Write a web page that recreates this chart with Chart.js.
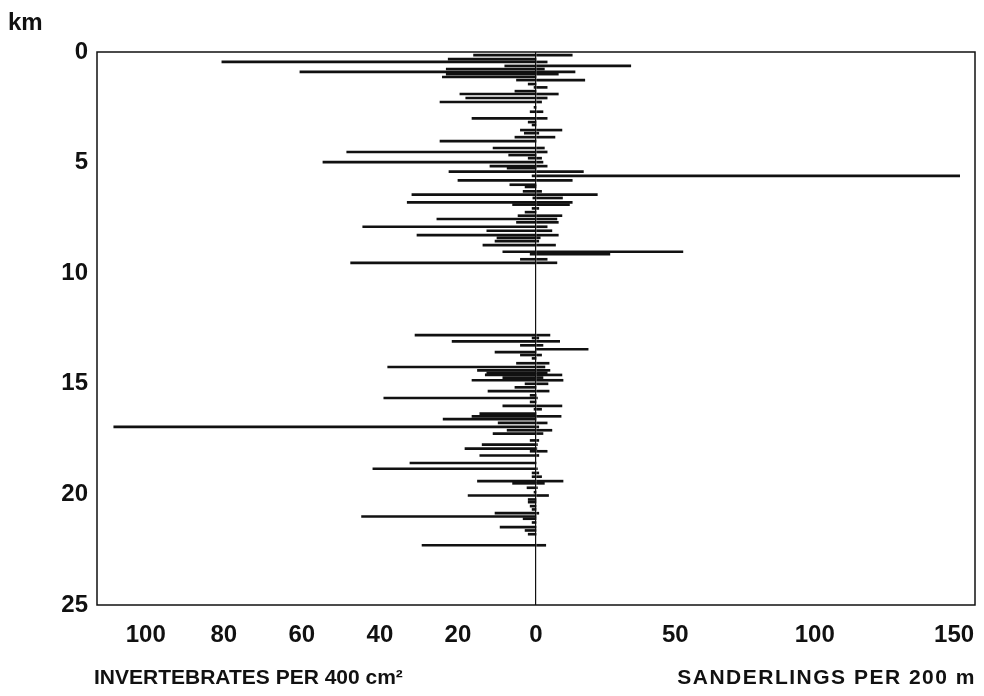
<!DOCTYPE html>
<html>
<head>
<meta charset="utf-8">
<script src="https://cdn.jsdelivr.net/npm/chart.js@4/dist/chart.umd.min.js"></script>
<style>
  body { margin: 0; background: #fff; }
  #wrap { position: relative; width: 984px; height: 696px; }
  .lbl { position: absolute; font-family: "Liberation Sans", Arial, sans-serif; font-weight: bold; color: #111; white-space: nowrap; }
</style>
</head>
<body>
<div id="wrap">
  <canvas id="chart" width="984" height="696"></canvas>
  <div class="lbl" style="left:8px; top:8px; font-size:24px;">km</div>
  <div class="lbl" style="left:94px; top:665px; font-size:21px;">INVERTEBRATES PER 400 cm²</div>
  <div class="lbl" style="right:8px; top:665px; font-size:21px; letter-spacing:1.5px;">SANDERLINGS PER 200 m</div>
</div>
<script>
// distance along the beach (km), one row per sample
const km = [
  0.14, 0.32, 0.45, 0.63, 0.77, 0.9, 1.0, 1.13, 1.27, 1.45, 1.6, 1.77, 1.9, 2.08, 2.26,
  2.5, 2.7, 3.0, 3.17, 3.3, 3.53, 3.67, 3.85, 4.03, 4.34, 4.52, 4.66, 4.8, 4.98, 5.16,
  5.25, 5.41, 5.6, 5.8, 6.0, 6.1, 6.3, 6.45, 6.6, 6.8, 6.9, 7.07, 7.24, 7.4, 7.55,
  7.7, 7.9, 8.08, 8.28, 8.4, 8.55, 8.73, 9.03, 9.14, 9.37, 9.53,
  12.8, 12.93, 13.08, 13.26, 13.44, 13.57, 13.7, 13.85, 14.07, 14.24, 14.39, 14.5, 14.6, 14.72, 14.84,
  15.0, 15.16, 15.33, 15.52, 15.64, 15.82, 16.0, 16.15, 16.35, 16.47, 16.6, 16.77, 16.95, 17.1, 17.25,
  17.56, 17.75, 17.93, 18.05, 18.24, 18.58, 18.84, 19.03, 19.2, 19.4, 19.5, 19.7, 19.9, 20.05, 20.23,
  20.35, 20.53, 20.68, 20.85, 21.0, 21.1, 21.27, 21.48, 21.63, 21.8, 22.3
];

// invertebrates per 400 cm2 (drawn to the left)
const invertebrates = [
  16, 22.5, 80.5, 8, 23, 60.5, 23, 24, 5, 2, 0.5, 5.4, 19.5, 18, 24.6,
  0.5, 1.5, 16.4, 2, 1, 4, 3, 5.4, 24.6, 11, 48.5, 7, 2, 54.6, 11.8,
  7.4, 22.3, 1, 20, 6.7, 2.8, 3.3, 31.8, 0.8, 33, 6, 1, 2.8, 4.6, 25.4,
  5, 44.4, 12.6, 30.5, 10, 10.5, 13.6, 8.5, 1.5, 4, 47.5,
  31, 1, 21.5, 4, 0, 10.5, 4, 1, 5, 38, 15, 12.6, 13, 8.5, 16.4,
  2.8, 5.4, 12.3, 1.5, 39, 1.5, 8.5, 0.5, 14.4, 16.4, 23.8, 9.7, 108.2, 7.4, 11,
  1.5, 13.8, 18.2, 1.5, 14.4, 32.3, 41.8, 1, 1, 15, 6, 2.3, 0.5, 17.4, 2,
  2, 1.5, 1, 10.5, 44.7, 3.3, 1, 9.2, 2.8, 2, 29.2
];

// sanderlings per 200 m (drawn to the right)
const sanderlings = [
  13, 0, 4, 34, 3, 14, 8, 0, 17.5, 0, 4, 0, 8, 4, 2,
  0, 2.5, 4, 0, 0, 9.3, 1, 6.8, 0, 3, 4, 0, 2, 2.5, 4,
  0, 17, 152, 13, 0, 0, 2, 22, 9.5, 13, 12, 1, 0, 9.3, 7.5,
  8, 4, 5.7, 8, 1.5, 1, 7, 52.7, 26.5, 4, 7.5,
  5, 1, 8.5, 2.5, 18.7, 0, 2, 0, 4.7, 3.2, 5, 4, 9.3, 2.5, 9.7,
  4.3, 0, 4.7, 0, 0.5, 0, 9.3, 2, 0, 9, 0, 4, 1, 5.7, 2.5,
  1, 0.5, 0.3, 4, 1, 0, 0.5, 1, 2, 9.7, 3, 0.5, 0, 4.5, 0,
  0, 0, 0, 1, 0, 0, 0, 0, 0, 0, 3.5
];

// tick labels on the two half-scales
const invTicks = [100, 80, 60, 40, 20, 0];
const sandTicks = [50, 100, 150];
const kmTicks = [0, 5, 10, 15, 20, 25];

// one invertebrate unit is 1.4 times as wide as one sanderling unit
const INV_SCALE = 1.4;

const tickFont = { family: '"Liberation Sans", Arial, sans-serif', size: 24, weight: 'bold' };

const frame = {
  id: 'frame',
  afterDraw(chart) {
    const a = chart.chartArea;
    const ctx = chart.ctx;
    ctx.save();
    ctx.strokeStyle = '#111';
    ctx.lineWidth = 1.5;
    ctx.strokeRect(a.left, a.top, a.right - a.left, a.bottom - a.top);
    ctx.restore();
  }
};

new Chart(document.getElementById('chart'), {
  type: 'bar',
  data: {
    datasets: [
      {
        label: 'Invertebrates',
        data: km.map((k, i) => ({ y: k, x: -invertebrates[i] * INV_SCALE })),
        backgroundColor: '#111',
      },
      {
        label: 'Sanderlings',
        data: km.map((k, i) => ({ y: k, x: sanderlings[i] })),
        backgroundColor: '#111',
      },
    ],
  },
  options: {
    indexAxis: 'y',
    responsive: false,
    animation: false,
    grouped: false,
    barThickness: 2,
    layout: { padding: { top: 52, right: 9, left: 0, bottom: 0 } },
    plugins: { legend: { display: false }, tooltip: { enabled: false } },
    scales: {
      y: {
        type: 'linear',
        reverse: true,
        offset: false,
        min: 0,
        max: 25,
        afterBuildTicks: (s) => { s.ticks = kmTicks.map((v) => ({ value: v })); },
        afterFit: (s) => { s.width = 97; },
        ticks: { font: tickFont, color: '#111', padding: 9 },
        grid: { display: false, drawTicks: false },
        border: { display: false },
      },
      x: {
        type: 'linear',
        min: -157.5,
        max: 157.5,
        afterBuildTicks: (s) => {
          const vals = invTicks.map((v) => -v * INV_SCALE).concat(sandTicks);
          s.ticks = vals.map((v) => ({ value: v }));
        },
        afterFit: (s) => { s.height = 91; s.paddingLeft = 0; s.paddingRight = 0; },
        ticks: {
          font: tickFont,
          color: '#111',
          padding: 16,
          maxRotation: 0,
          autoSkip: false,
          callback: (v) => (v < 0 ? Math.round(-v / INV_SCALE) : v),
        },
        grid: {
          drawTicks: false,
          color: (c) => (c.tick && c.tick.value === 0 ? '#111' : 'rgba(0,0,0,0)'),
          lineWidth: 1.2,
        },
        border: { display: false },
      },
    },
  },
  plugins: [frame],
});
</script>
</body>
</html>
